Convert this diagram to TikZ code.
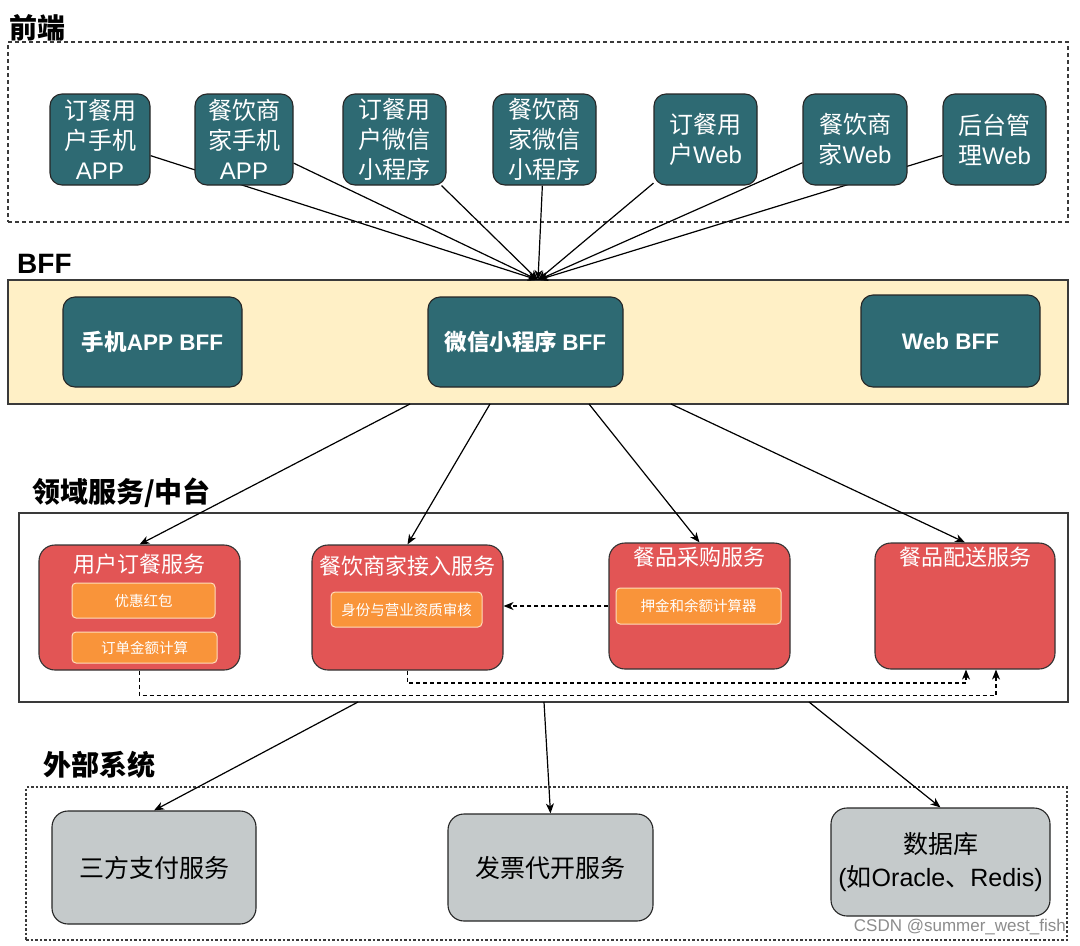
\documentclass[tikz,border=0pt]{standalone}
\usepackage{fontspec}
\setmainfont{Noto Sans CJK SC}
\newfontfamily\lf{Liberation Sans}
\usetikzlibrary{arrows.meta}
\pgfdeclarelayer{background}
\pgfsetlayers{background,main}
\definecolor{feteal}{HTML}{2E6A73}
\definecolor{bffyellow}{HTML}{FFF0C6}
\definecolor{domred}{HTML}{E25555}
\definecolor{suborange}{HTML}{F9943A}
\definecolor{suborangeb}{HTML}{FFDDBB}
\definecolor{extgray}{HTML}{C5CACB}
\definecolor{boxline}{HTML}{3A3A3A}
\tikzset{
  title/.style={anchor=west, inner sep=0pt, font=\fontsize{28}{30}\selectfont\bfseries},
  fenode/.style={draw=black!85, line width=1.1pt, fill=feteal, rounded corners=12pt, text=white,
     align=center, inner sep=0pt, font=\fontsize{24}{30}\selectfont},
  bffnode/.style={draw=black!85, line width=1.1pt, fill=feteal, rounded corners=12pt, text=white,
     align=center, inner sep=0pt, minimum height=90pt, font=\fontsize{22.5}{24}\selectfont\bfseries},
  domnode/.style={draw=black!80, line width=1.1pt, fill=domred, rounded corners=16pt, inner sep=0pt},
  domtitle/.style={text=white, inner sep=0pt, font=\fontsize{22}{24}\selectfont},
  subnode/.style={draw=suborangeb, line width=1pt, fill=suborange, rounded corners=4pt, text=white,
     inner sep=0pt, font=\fontsize{14.5}{16}\selectfont},
  extnode/.style={draw=black!85, line width=1.1pt, fill=extgray, rounded corners=16pt, text=black,
     align=center, inner sep=0pt, font=\fontsize{25}{33}\selectfont},
  conn/.style={draw=black, line width=1.2pt, -{Stealth[length=10pt,width=8pt,inset=3pt]}},
  dconn/.style={draw=black, line width=1.2pt, dash pattern=on 4pt off 3pt, -{Stealth[length=10pt,width=8pt,inset=3pt]}},
}
\begin{document}
\begin{tikzpicture}[x=1pt,y=-1pt]
\useasboundingbox (0,0) rectangle (1080,946);
\begin{pgfonlayer}{background}
  \fill[white] (0,0) rectangle (1080,946);
  \node[draw=boxline, line width=1.2pt, dash pattern=on 4pt off 3pt, minimum width=1060pt, minimum height=180pt, inner sep=0pt] (front) at (538,132) {};
  \node[draw=boxline, line width=1.3pt, fill=bffyellow, minimum width=1060pt, minimum height=124pt, inner sep=0pt] (bff) at (538,342) {};
  \node[draw=boxline, line width=1.3pt, minimum width=1049pt, minimum height=189pt, inner sep=0pt] (dom) at (543.5,607.5) {};
  \node[draw=boxline, line width=1.2pt, dash pattern=on 2.5pt off 2pt, minimum width=1041pt, minimum height=153pt, inner sep=0pt] (ext) at (546.5,863.5) {};
\end{pgfonlayer}

% titles
\node[title] (t1) at (9,28) {前端};
\node[title] (t2) at (17,264) {{\lf\bfseries BFF}};
\node[title] (t3) at (32,493) {领域服务/中台};
\node[title] (t4) at (43,765) {外部系统};

% front-end nodes
\node[fenode, minimum width=100pt, minimum height=91pt] (f1) at (100,139.5) {订餐用\\户手机\\{\lf APP}};
\node[fenode, minimum width=98pt, minimum height=91pt] (f2) at (244,139.5) {餐饮商\\家手机\\{\lf APP}};
\node[fenode, minimum width=103pt, minimum height=91pt] (f3) at (394.5,139.5) {订餐用\\户微信\\小程序};
\node[fenode, minimum width=103pt, minimum height=91pt] (f4) at (544.5,139.5) {餐饮商\\家微信\\小程序};
\node[fenode, minimum width=103pt, minimum height=91pt] (f5) at (705.5,139.5) {订餐用\\户{\lf Web}};
\node[fenode, minimum width=104pt, minimum height=91pt] (f6) at (855,139.5) {餐饮商\\家{\lf Web}};
\node[fenode, minimum width=103pt, minimum height=91pt] (f7) at (994.5,139.5) {后台管\\理{\lf Web}};

% BFF nodes
\node[bffnode, minimum width=179pt] (b1) at (152.5,342) {手机{\lf\bfseries APP BFF}};
\node[bffnode, minimum width=195pt] (b2) at (525.5,342) {微信小程序 {\lf\bfseries BFF}};
\node[bffnode, minimum width=179pt, minimum height=92pt] (b3) at (950.5,341) {{\lf\bfseries Web BFF}};

% domain nodes
\node[domnode, minimum width=201pt, minimum height=125pt] (u1) at (139.5,607.5) {};
\node[domtitle, anchor=north] (u1t) at ([yshift=-9pt]u1.north) {用户订餐服务};
\node[domnode, minimum width=191pt, minimum height=125pt] (u2) at (407.5,607.5) {};
\node[domtitle, anchor=north] (u2t) at ([yshift=-11pt]u2.north) {餐饮商家接入服务};
\node[domnode, minimum width=181pt, minimum height=126pt] (u3) at (699.5,606) {};
\node[domtitle, anchor=north] (u3t) at ([yshift=-4pt]u3.north) {餐品采购服务};
\node[domnode, minimum width=180pt, minimum height=126pt] (u4) at (965,606) {};
\node[domtitle, anchor=north] (u4t) at ([yshift=-4pt]u4.north) {餐品配送服务};

\node[subnode, minimum width=143pt, minimum height=35pt] (s1) at (143.5,600.5) {优惠红包};
\node[subnode, minimum width=145pt, minimum height=31pt] (s2) at (144.5,647.5) {订单金额计算};
\node[subnode, minimum width=151pt, minimum height=35pt] (s3) at (406.5,609.5) {身份与营业资质审核};
\node[subnode, minimum width=165pt, minimum height=36pt] (s4) at (698.5,606) {押金和余额计算器};

% external nodes
\node[extnode, minimum width=204pt, minimum height=113pt] (e1) at (154,867.5) {三方支付服务};
\node[extnode, minimum width=205pt, minimum height=107pt] (e2) at (550.5,867.5) {发票代开服务};
\node[extnode, minimum width=219pt, minimum height=108pt] (e3) at (940.5,862) {数据库\\{\lf (}如{\lf Oracle}、{\lf Redis)}};

\node[anchor=south east, inner sep=0pt, text=black!45, font=\lf\fontsize{17}{18}\selectfont] (wm) at (1066,935) {CSDN @summer\_west\_fish};

% connectors
\coordinate (hub) at (538,280);
\coordinate (o1) at (410,404);
\coordinate (o2) at (490,404);
\coordinate (o3) at (589,404);
\coordinate (o4) at (671,404);
\coordinate (d1) at (358,702);
\coordinate (d2) at (544,702);
\coordinate (d3) at (809,702);
\begin{pgfonlayer}{background}
  \foreach \n in {f1,f2,f3,f4,f5,f6,f7} \draw[conn] (\n) -- (hub);
  \draw[conn] (o1) -- (u1.north);
  \draw[conn] (o2) -- (u2.north);
  \draw[conn] (o3) -- (u3.north);
  \draw[conn] (o4) -- (u4.north);
  \draw[dconn] (u3.west) -- (u3.west -| u2.east);
  \draw[dconn] (u1.south) -- ++(0,25) -| ([xshift=31pt]u4.south);
  \draw[dconn] (u2.south) -- ++(0,12.5) -| ([xshift=1pt]u4.south);
  \draw[conn] (d1) -- (e1.north);
  \draw[conn] (d2) -- (e2.north);
  \draw[conn] (d3) -- (e3.north);
\end{pgfonlayer}
\end{tikzpicture}
\end{document}
